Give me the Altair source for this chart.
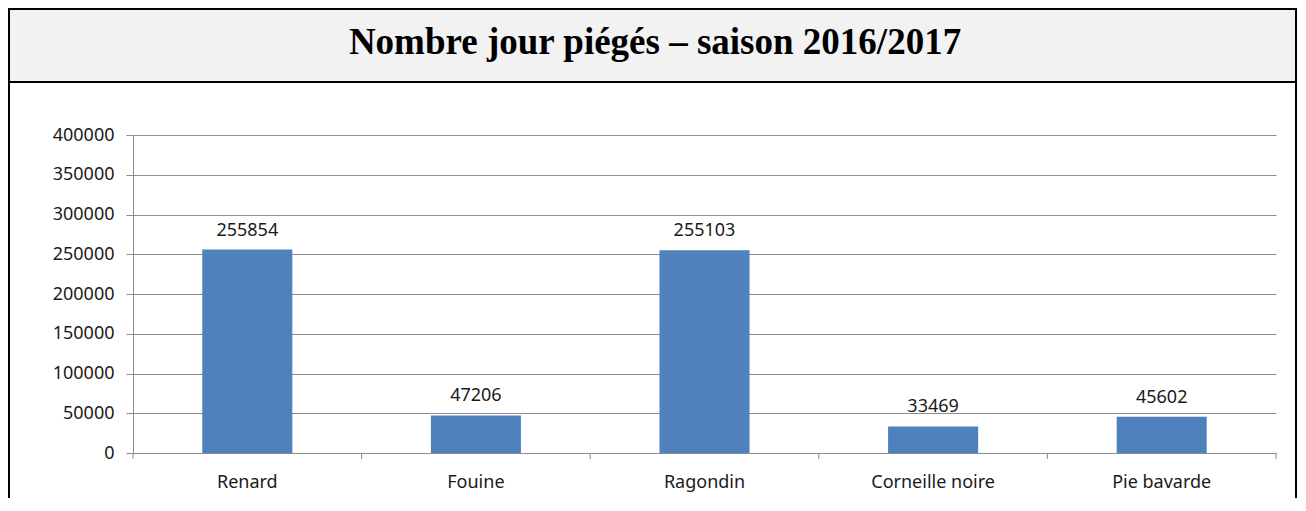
import altair as alt
import pandas as pd

categories = ["Renard", "Fouine", "Ragondin", "Corneille noire", "Pie bavarde"]
values = [255854, 47206, 255103, 33469, 45602]
y_ticks = [0, 50000, 100000, 150000, 200000, 250000, 300000, 350000, 400000]
title_text = "Nombre jour piégés – saison 2016/2017"

df = pd.DataFrame({"cat": categories, "val": values})

W, H = 1143, 318
STEP = W / len(categories)
GRAY = "#8c8c8c"
FONT = "Noto Sans"

x = alt.X(
    "cat:N", sort=categories,
    scale=alt.Scale(paddingInner=0.606, paddingOuter=0.303),
    axis=alt.Axis(title=None, labelAngle=0, labelAlign="center", ticks=False,
                  tickSize=0, labelPadding=29, domainColor=GRAY,
                  labelFont=FONT, labelFontSize=18, labelColor="#1a1a1a",
                  grid=False),
)
y = alt.Y(
    "val:Q", scale=alt.Scale(domain=[0, 400000], nice=False),
    axis=alt.Axis(title=None, values=y_ticks, format="d", grid=True,
                  gridColor=GRAY, domainColor=GRAY, tickColor=GRAY,
                  tickSize=7, labelPadding=12, labelFont=FONT,
                  labelFontSize=18, labelColor="#1a1a1a"),
)

base = alt.Chart(df)
bars = base.mark_bar(color="#4f81bd").encode(x=x, y=y)
labels = base.mark_text(dy=-14, baseline="alphabetic", font=FONT,
                        fontSize=18, color="#1a1a1a").encode(
    x=x, y=y, text=alt.Text("val:Q", format="d"))
x_ticks = base.mark_rule(color=GRAY, xOffset=-STEP / 2).encode(
    x=alt.X("cat:N", sort=categories), y=alt.value(H), y2=alt.value(H + 6))

deco = alt.Chart(pd.DataFrame({"k": [0]}))
title_box = deco.mark_rect(fill="#f2f2f2", stroke="#000", strokeWidth=2).encode(
    x=alt.value(-124), x2=alt.value(1163), y=alt.value(-126), y2=alt.value(-53))
left_line = deco.mark_rule(color="#000", strokeWidth=2).encode(
    x=alt.value(-124), y=alt.value(-53), y2=alt.value(366))
right_line = deco.mark_rule(color="#000", strokeWidth=2).encode(
    x=alt.value(1163), y=alt.value(-53), y2=alt.value(366))
title = deco.mark_text(text=title_text, font="Liberation Serif", fontWeight="bold",
                       fontSize=37, align="center", baseline="alphabetic",
                       color="#000").encode(x=alt.value(522), y=alt.value(-81))
extra_tick = deco.mark_rule(color=GRAY).encode(
    x=alt.value(W), y=alt.value(H), y2=alt.value(H + 6))

chart = alt.layer(title_box, left_line, right_line, title, extra_tick,
                  x_ticks, bars, labels).properties(
    width=W, height=H,
    padding={"left": 125, "top": 127, "right": 22, "bottom": 45},
    autosize=alt.AutoSizeParams(type="none"),
    background="white",
).configure_view(stroke=None)

chart.save("out.html", embed_options={"renderer": "svg", "actions": False})
